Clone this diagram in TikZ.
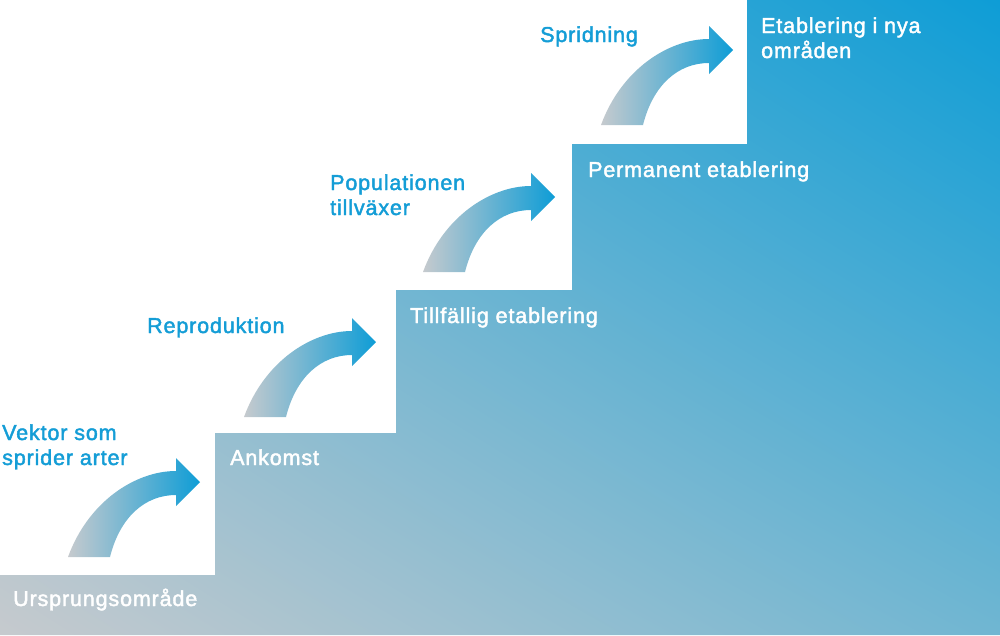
\documentclass[tikz,border=0pt]{standalone}
\usepackage{fontspec}
\setmainfont{Liberation Sans}[FakeBold=2,LetterSpace=4]
\usetikzlibrary{shadings}
\definecolor{agrey}{RGB}{198,202,206}
\definecolor{ablue}{RGB}{14,157,214}
\definecolor{amid}{RGB}{112,182,210}
\definecolor{lblblue}{RGB}{20,157,214}
\tikzset{
  lbl/.style={anchor=base west, inner sep=0pt, font=\fontsize{21.5}{25}\selectfont, align=left},
  onwhite/.style={lbl, text=lblblue},
  onstep/.style={lbl, text=white},
  curvearrow/.pic={
    \shade[left color=agrey, right color=ablue]
      (-132,75) .. controls (-112,20) and (-65,-11) .. (-24,-11)
      -- (-24,-24) -- (0,0) -- (-24,24) -- (-24,13)
      .. controls (-55,13) and (-80,35) .. (-90,75) -- cycle;
  }
}
\begin{document}
\begin{tikzpicture}[x=1pt,y=-1pt]
\useasboundingbox (0,0) rectangle (1000,635);
\shade[lower left=agrey, upper right=ablue, upper left=amid, lower right=amid]
  (0,635) -- (0,575) -- (215,575) -- (215,433) -- (396,433) -- (396,290)
  -- (572,290) -- (572,144) -- (747,144) -- (747,0) -- (1000,0) -- (1000,635) -- cycle;
\pic (arr1) at (200,482) {curvearrow};
\pic (arr2) at (376,342) {curvearrow};
\pic (arr3) at (555,197) {curvearrow};
\pic (arr4) at (733,50) {curvearrow};
\node[onwhite] (vektor) at (2,465) {Vektor som\\sprider arter};
\node[onwhite] (repro) at (147,333) {Reproduktion};
\node[onwhite] (popul) at (330,215) {Populationen\\tillväxer};
\node[onwhite] (sprid) at (540,42) {Spridning};
\node[onstep] (ursp) at (13,606) {Ursprungsområde};
\node[onstep] (ankomst) at (230,465) {Ankomst};
\node[onstep] (tillf) at (410,323) {Tillfällig etablering};
\node[onstep] (perm) at (588,177) {Permanent etablering};
\node[onstep] (etabl) at (761,58) {Etablering i nya\\områden};
\end{tikzpicture}
\end{document}
